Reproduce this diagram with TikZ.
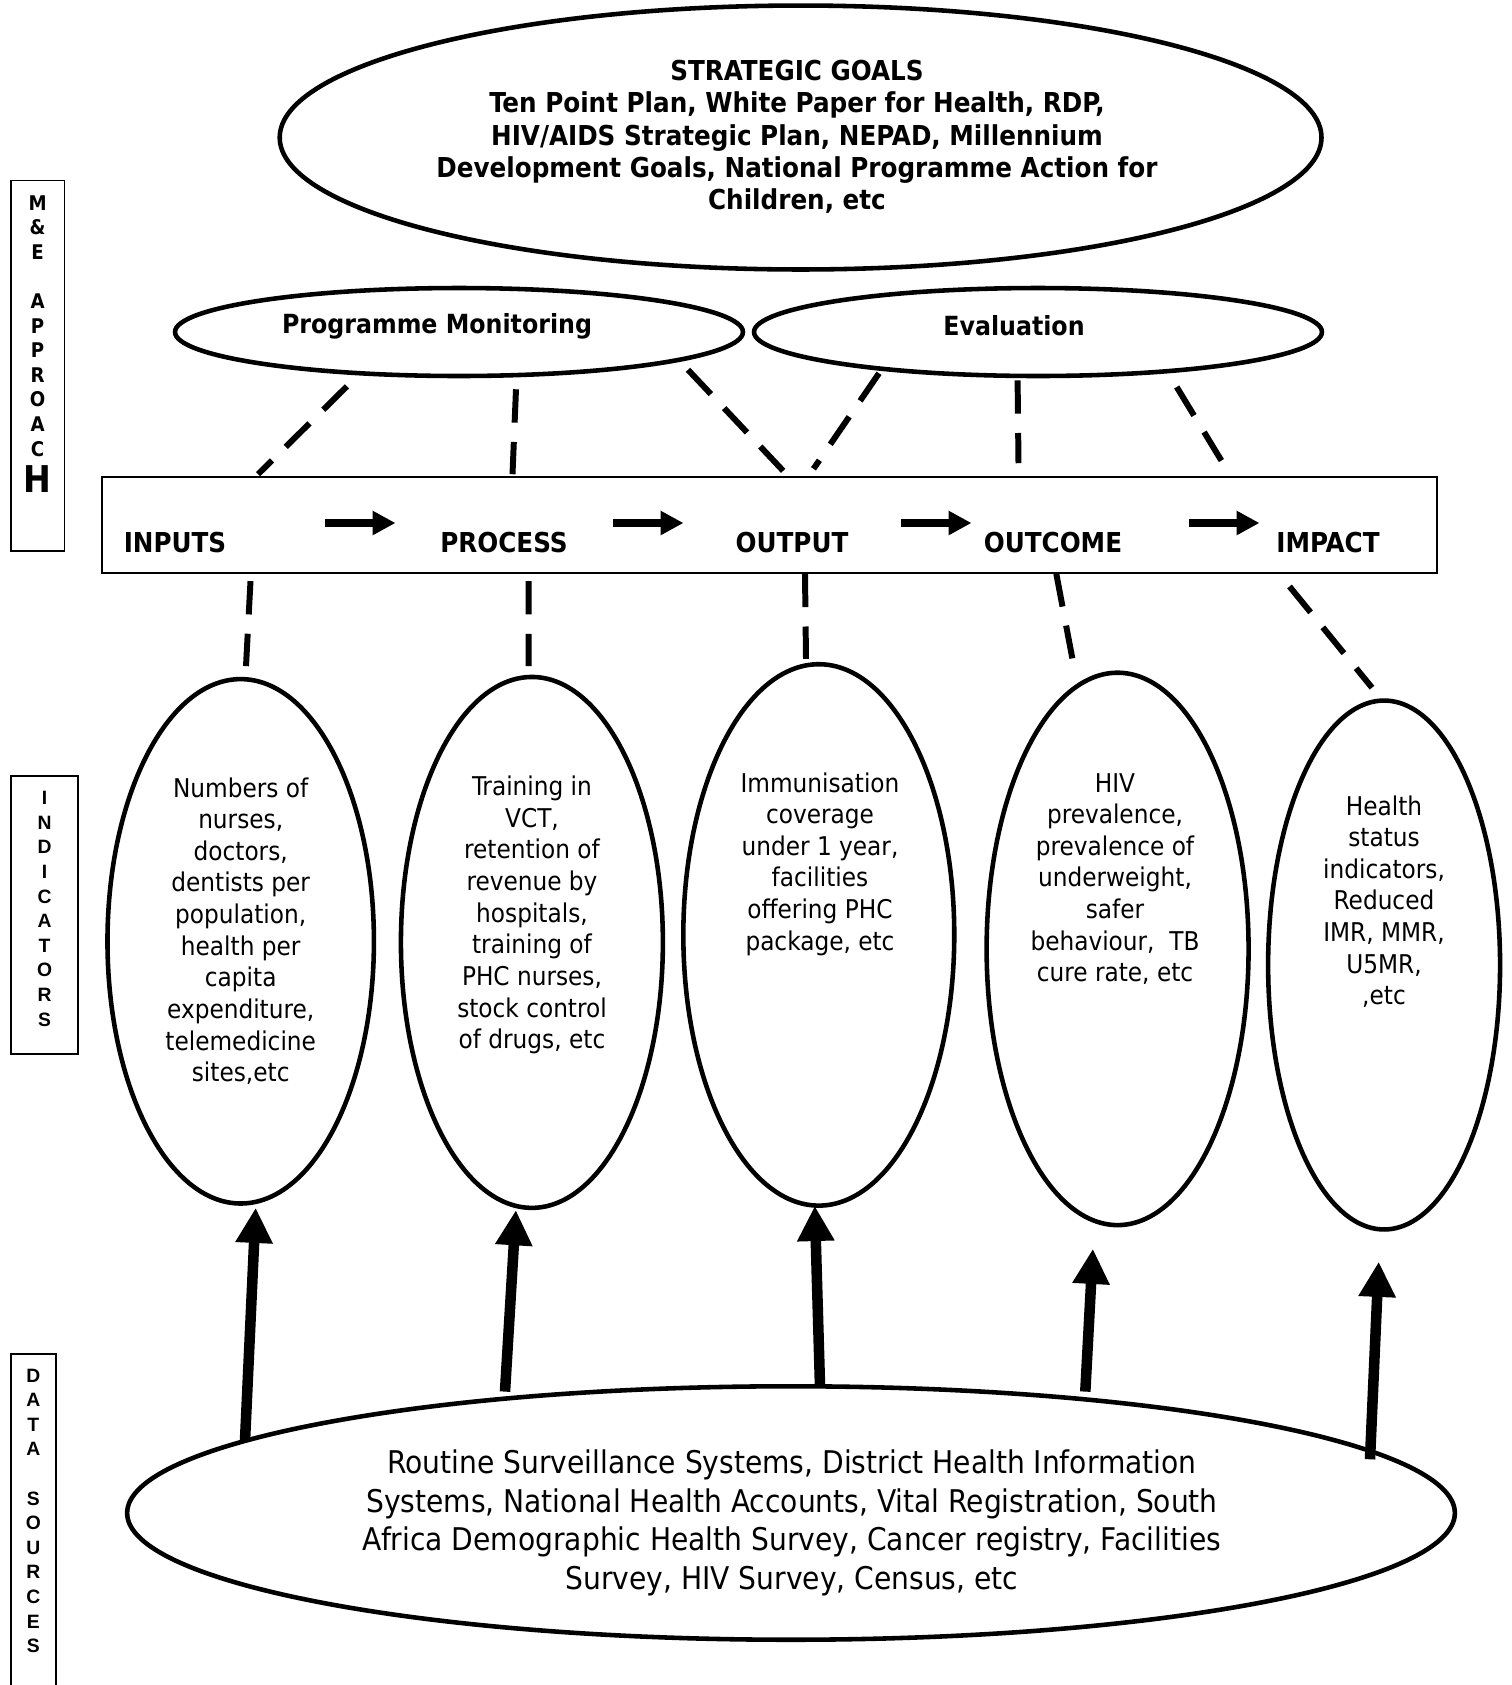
\documentclass[tikz,border=0pt]{standalone}
\usepackage{fontspec}
\setmainfont{DejaVu Sans Condensed}
\newfontfamily\arialfont{Liberation Sans}
\usetikzlibrary{shapes.geometric,arrows.meta,calc}

\begin{document}
\begin{tikzpicture}[x=0.02cm,y=-0.02cm,
    oval/.style={draw,ellipse,line width=2.6pt,inner sep=0pt},
    indtext/.style={align=center,font=\fontsize{14.7}{18}\selectfont},
    stage/.style={font=\bfseries\fontsize{15.6}{18}\selectfont},
    dashline/.style={line width=3.4pt,dash pattern=on 19pt off 11pt},
    feed/.style={line width=6pt,-{Triangle[width=20pt,length=20pt]}},
    flow/.style={line width=4.2pt,-{Triangle[width=13pt,length=13pt]}},
    sidebox/.style={draw,line width=1.1pt},
    sidetext/.style={align=center,inner sep=0pt,anchor=north,font=\bfseries\fontsize{11}{14}\selectfont}]
      \useasboundingbox (0,0) rectangle (1512,1685);
      \node[oval,minimum width=20.84cm,minimum height=5.28cm] (goals) at (800.6,137.5) {};
      \node[align=center,font=\bfseries\fontsize{15.6}{18.4}\selectfont] (goalstext) at (797,137) {STRATEGIC GOALS\\Ten Point Plan, White Paper for Health, RDP,\\HIV/AIDS Strategic Plan, NEPAD, Millennium\\Development Goals, National Programme Action for\\Children, etc};
      \node[oval,minimum width=11.36cm,minimum height=1.76cm] (monitor) at (459,332) {};
      \node[font=\bfseries\fontsize{15}{18}\selectfont] (monitortext) at (437,326) {Programme Monitoring};
      \node[oval,minimum width=11.36cm,minimum height=1.76cm] (evaluate) at (1038,332) {};
      \node[font=\bfseries\fontsize{15}{18}\selectfont] (evaluatetext) at (1014,326) {Evaluation};
      \node[draw,line width=0.9pt,minimum width=26.7cm,minimum height=1.92cm,inner sep=0pt] (chain) at (769.5,525) {};
      \node[stage] (inputs) at (175,543) {INPUTS};
      \node[stage] (process) at (504,543) {PROCESS};
      \node[stage] (output) at (792,543) {OUTPUT};
      \node[stage] (outcome) at (1053,543) {OUTCOME};
      \node[stage] (impact) at (1328,543) {IMPACT};
      \foreach \x [count=\i] in {324.5,612.5,900.5,1188.5}{
        \coordinate (flow\i a) at (\x,523);
        \coordinate (flow\i b) at (\x+71,523);
        \draw[flow] (flow\i a) -- (flow\i b);
      }
      \draw[dashline] ($(monitor.south)+(-112,8)$) -- ($(chain.north)+(-511.5,-2)$);
      \draw[dashline] ($(monitor.south)+(57,11)$) -- ($(chain.north)+(-257,-2)$);
      \draw[dashline] ($(monitor.south)+(229,-8.5)$) -- ($(chain.north)+(15,-4)$);
      \draw[dashline] ($(evaluate.south)+(-159,-5)$) -- ($(chain.north)+(44,-7.4)$);
      \draw[dashline] ($(evaluate.south)+(-20.4,2)$) -- ($(chain.north)+(249,-13)$);
      \draw[dashline] ($(evaluate.south)+(138.7,8.7)$) -- ($(chain.north)+(453.5,-13)$);
      \node[oval,minimum width=5.33cm,minimum height=10.49cm] (inputsoval) at (240.7,941.3) {};
      \node[oval,minimum width=5.24cm,minimum height=10.62cm] (processoval) at (531.9,942.4) {};
      \node[oval,minimum width=5.42cm,minimum height=10.83cm] (outputoval) at (818.8,934.9) {};
      \node[oval,minimum width=5.24cm,minimum height=11.05cm] (outcomeoval) at (1117.6,948.9) {};
      \node[oval,minimum width=4.64cm,minimum height=10.58cm] (impactoval) at (1384.1,965) {};
      \node[indtext] (inputsind) at (240.7,931) {Numbers of\\nurses,\\doctors,\\dentists per\\population,\\health per\\capita\\expenditure,\\telemedicine\\sites,etc};
      \node[indtext] (processind) at (532,915) {Training in\\VCT,\\retention of\\revenue by\\hospitals,\\training of\\PHC nurses,\\stock control\\of drugs, etc};
      \node[indtext] (outputind) at (820,864) {Immunisation\\coverage\\under 1 year,\\facilities\\offering PHC\\package, etc};
      \node[indtext] (outcomeind) at (1115,879) {HIV\\prevalence,\\prevalence of\\underweight,\\safer\\behaviour,~ TB\\cure rate, etc};
      \node[indtext] (impactind) at (1384,901.6) {Health\\status\\indicators,\\Reduced\\IMR, MMR,\\U5MR,\\,etc};
      \draw[dashline] ($(chain.south)+(-519,7.3)$) -- ($(inputsoval.north)+(5.3,-10.7)$);
      \draw[dashline] ($(chain.south)+(-240.8,7.3)$) -- ($(processoval.north)+(-3.2,-8.6)$);
      \draw[dashline] ($(chain.south)+(35.5,0)$) -- ($(outputoval.north)+(-12.8,-3.1)$);
      \draw[dashline] ($(chain.south)+(286.8,0)$) -- ($(outcomeoval.north)+(-45.2,-11.7)$);
      \draw[dashline] ($(chain.south)+(520,12.7)$) -- ($(impactoval.north)+(-12.1,-10.6)$);
      \node[oval,minimum width=26.56cm,minimum height=5.07cm] (sources) at (791,1513) {};
      \node[align=center,font=\fontsize{17.8}{22}\selectfont] (sourcestext) at (792,1523) {Routine Surveillance Systems, District Health Information\\Systems, National Health Accounts, Vital Registration, South\\Africa Demographic Health Survey, Cancer registry, Facilities\\Survey, HIV Survey, Census, etc};
      \draw[feed] ($(sources.north)+(-546,56.8)$) -- ($(inputsoval.south)+(15,2)$);
      \draw[feed] ($(sources.north)+(-286,7.6)$) -- ($(processoval.south)+(-16,0)$);
      \draw[feed] ($(sources.north)+(29,2.2)$) -- ($(outputoval.south)+(-4,-2)$);
      \draw[feed] ($(sources.north)+(294.3,7.6)$) -- ($(outcomeoval.south)+(-24.7,21.4)$);
      \draw[feed] ($(sources.north)+(579,75.3)$) -- ($(impactoval.south)+(-5.4,30)$);
      \draw[sidebox] (10.7,180.5) rectangle (64.5,551);
      \node[sidetext,font=\bfseries\fontsize{11.5}{14}\selectfont] (approach) at (37.6,195) {M\\\&\\E\\\mbox{}\\A\\P\\P\\R\\O\\A\\C\\[4pt]{\fontsize{21}{14}\selectfont H}};
      \draw[sidebox] (10.7,776) rectangle (78.4,1054);
      \node[sidetext,font=\arialfont\bfseries\fontsize{11}{14}\selectfont] (indicators) at (44.6,791) {I\\N\\D\\I\\C\\A\\T\\O\\R\\S};
      \draw[sidebox] (10.7,1700) |- (55.9,1354) -- (55.9,1700);
      \node[sidetext,font=\arialfont\bfseries\fontsize{11}{14}\selectfont] (datasources) at (33.3,1368.5) {D\\A\\T\\A\\\mbox{}\\S\\O\\U\\R\\C\\E\\S};
\end{tikzpicture}
\end{document}
